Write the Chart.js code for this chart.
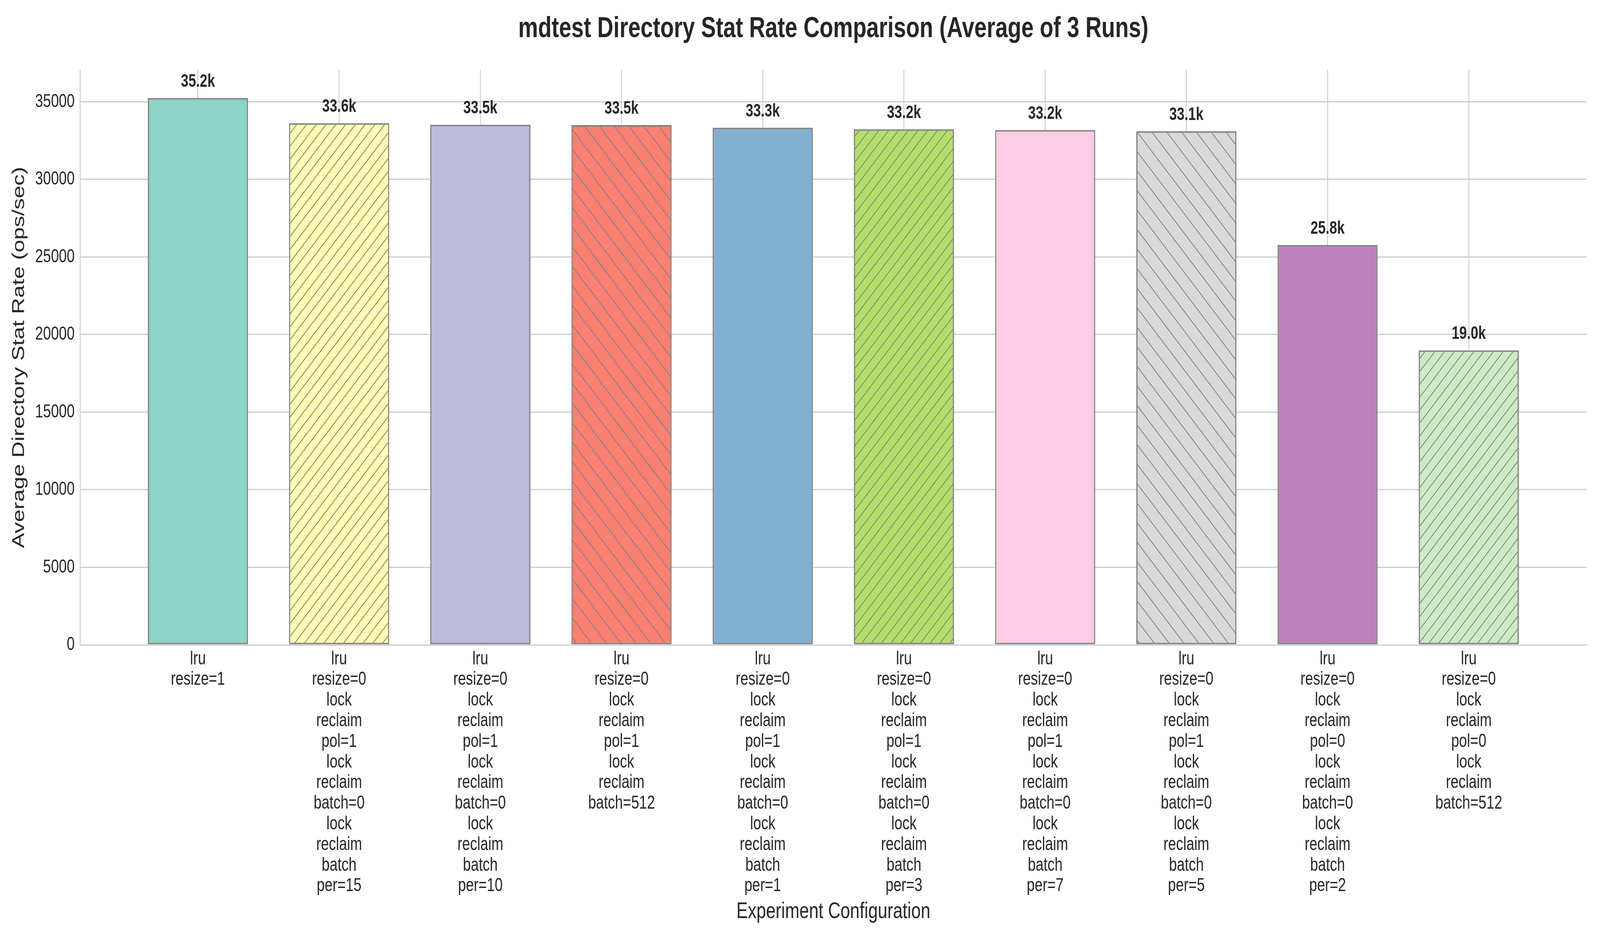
<!DOCTYPE html>
<html>
<head>
<meta charset="utf-8">
<script src="https://cdn.jsdelivr.net/npm/chart.js@4/dist/chart.umd.min.js"></script>
<style>
  html, body { margin: 0; padding: 0; background: #ffffff; overflow: hidden; }
  /* the chart is drawn on a 5400 x 2400 canvas and shown across the whole window */
  canvas { display: block; width: 100vw !important; height: 100vh !important; }
</style>
</head>
<body>
<canvas id="statChart" width="5400" height="2400"></canvas>
<script>
// Configurations (one string per bar, lines split on \n)
const categories = [
    'lru\nresize=1',
    'lru\nresize=0\nlock\nreclaim\npol=1\nlock\nreclaim\nbatch=0\nlock\nreclaim\nbatch\nper=15',
    'lru\nresize=0\nlock\nreclaim\npol=1\nlock\nreclaim\nbatch=0\nlock\nreclaim\nbatch\nper=10',
    'lru\nresize=0\nlock\nreclaim\npol=1\nlock\nreclaim\nbatch=512',
    'lru\nresize=0\nlock\nreclaim\npol=1\nlock\nreclaim\nbatch=0\nlock\nreclaim\nbatch\nper=1',
    'lru\nresize=0\nlock\nreclaim\npol=1\nlock\nreclaim\nbatch=0\nlock\nreclaim\nbatch\nper=3',
    'lru\nresize=0\nlock\nreclaim\npol=1\nlock\nreclaim\nbatch=0\nlock\nreclaim\nbatch\nper=7',
    'lru\nresize=0\nlock\nreclaim\npol=1\nlock\nreclaim\nbatch=0\nlock\nreclaim\nbatch\nper=5',
    'lru\nresize=0\nlock\nreclaim\npol=0\nlock\nreclaim\nbatch=0\nlock\nreclaim\nbatch\nper=2',
    'lru\nresize=0\nlock\nreclaim\npol=0\nlock\nreclaim\nbatch=512'
];

// Average stat rate (ops/sec)
const statRates = [35240, 33620, 33520, 33500, 33330, 33230, 33180, 33100, 25770, 18980];

// y axis ticks
const yTicks = [0, 5000, 10000, 15000, 20000, 25000, 30000, 35000];

const barColors = ['#8dd3c7', '#ffffb3', '#bebada', '#fb8072', '#80b1d3',
                   '#b3de69', '#fccde5', '#d9d9d9', '#bc80bd', '#ccebc5'];
const hatches = ['', '/', '', '\\', '', '/', '', '\\', '', '/'];

const edgeColor = '#808080';
const textColor = '#262626';
const gridColor = '#cccccc';
const fontFamily = '"Liberation Sans", Arial, sans-serif';

const ctx = document.getElementById('statChart').getContext('2d');

// Build a repeating hatch tile like matplotlib's
function hatchPattern(color, hatch) {
    if (!hatch) return color;
    const s = hatch === '/' ? 33 : 50;
    const tile = document.createElement('canvas');
    tile.width = s;
    tile.height = s;
    const c = tile.getContext('2d');
    c.fillStyle = color;
    c.fillRect(0, 0, s, s);
    c.strokeStyle = edgeColor;
    c.lineWidth = 2.3;
    c.beginPath();
    if (hatch === '/') {
        [0, s, 2 * s].forEach(k => {
            c.moveTo(k + s, -s);
            c.lineTo(k - 2 * s, 2 * s);
        });
    } else {
        [-s, 0, s].forEach(k => {
            c.moveTo(k - s, -s);
            c.lineTo(k + 2 * s, 2 * s);
        });
    }
    c.stroke();
    return ctx.createPattern(tile, 'repeat');
}

const fills = barColors.map((col, i) => hatchPattern(col, hatches[i]));

// Value labels above bars
const valueLabels = {
    id: 'valueLabels',
    afterDatasetsDraw(chart) {
        const c = chart.ctx;
        const meta = chart.getDatasetMeta(0);
        c.save();
        c.font = 'bold 46px ' + fontFamily;
        c.fillStyle = textColor;
        c.textAlign = 'center';
        c.textBaseline = 'alphabetic';
        meta.data.forEach((bar, i) => {
            c.fillText((statRates[i] / 1000).toFixed(1) + 'k', bar.x, bar.y - 29);
        });
        c.restore();
    }
};

Chart.defaults.font.family = fontFamily;
Chart.defaults.color = textColor;

new Chart(ctx, {
    type: 'bar',
    data: {
        datasets: [{
            data: statRates.map((v, i) => ({ x: i, y: v })),
            backgroundColor: fills,
            borderColor: edgeColor,
            borderWidth: 4,
            borderSkipped: false,
            barPercentage: 0.709,
            categoryPercentage: 1.0
        }]
    },
    options: {
        responsive: false,
        devicePixelRatio: 1,
        animation: false,
        layout: { padding: { top: 0, right: 45, bottom: 0, left: 0 } },
        plugins: {
            legend: { display: false },
            tooltip: { enabled: false },
            title: {
                display: true,
                text: 'mdtest Directory Stat Rate Comparison (Average of 3 Runs)',
                fullSize: false,
                color: textColor,
                font: { size: 75, weight: 'bold', lineHeight: 1.2 },
                padding: { top: 29, bottom: 60 }
            }
        },
        scales: {
            x: {
                type: 'linear',
                offset: false,
                min: -0.835,
                max: 9.835,
                afterBuildTicks: scale => {
                    scale.ticks = categories.map((c, i) => ({ value: i }));
                },
                afterFit: scale => { scale.height = 750; },
                ticks: {
                    autoSkip: false,
                    maxRotation: 0,
                    padding: 10,
                    color: textColor,
                    font: { size: 48, lineHeight: 1.1 },
                    callback: value => categories[value].split('\n')
                },
                grid: { offset: false, color: gridColor, lineWidth: 3, drawTicks: false },
                border: { color: gridColor, width: 3 },
                title: {
                    display: true,
                    text: 'Experiment Configuration',
                    color: textColor,
                    font: { size: 58, lineHeight: 1.2 },
                    padding: { top: 0, bottom: 32 }
                }
            },
            y: {
                min: 0,
                max: 37050,
                afterBuildTicks: scale => {
                    scale.ticks = yTicks.map(v => ({ value: v }));
                },
                afterFit: scale => { scale.width = 270; },
                ticks: {
                    padding: 18,
                    color: textColor,
                    font: { size: 48 },
                    callback: value => String(value)
                },
                grid: { color: gridColor, lineWidth: 3, drawTicks: false },
                border: { color: gridColor, width: 3 },
                title: {
                    display: true,
                    text: 'Average Directory Stat Rate (ops/sec)',
                    color: textColor,
                    font: { size: 58, lineHeight: 1.2 },
                    padding: { top: 30, bottom: 0 }
                }
            }
        }
    },
    plugins: [valueLabels]
});
</script>
</body>
</html>
